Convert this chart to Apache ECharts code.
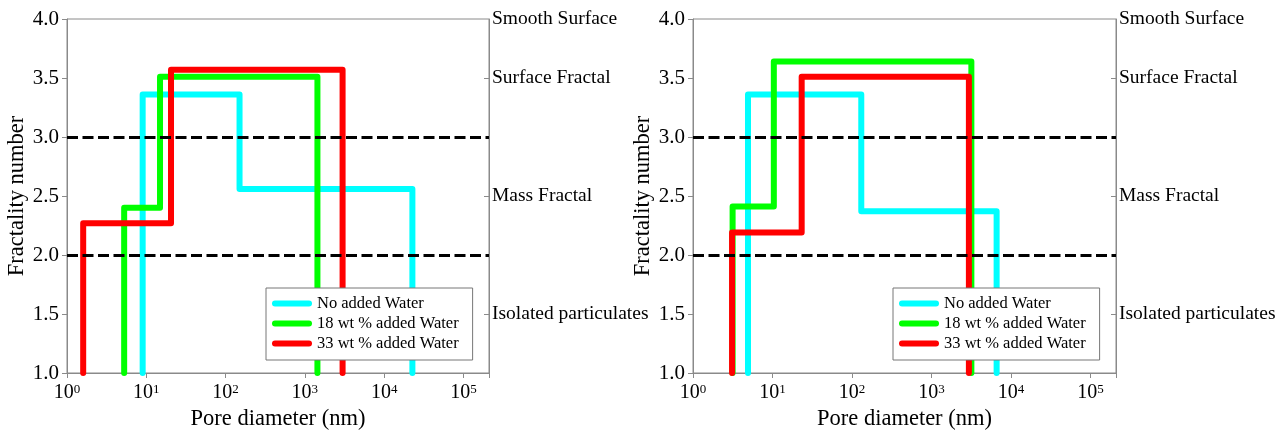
<!DOCTYPE html>
<html>
<head>
<meta charset="utf-8">
<script src="https://cdn.jsdelivr.net/npm/echarts@6/dist/echarts.min.js"></script>
<style>
  html, body { margin: 0; padding: 0; background: #fff; }
  #chart { width: 1288px; height: 430px; }
</style>
</head>
<body>
<div id="chart"></div>
<script>
// ---- Data (pore diameter in nm, fractality number) ----
const seriesNames = ['No added Water', '18 wt % added Water', '33 wt % added Water'];
const seriesColors = ['#00FFFF', '#00FF00', '#FF0000'];

// Left panel
const leftNoWaterX = [9.0, 9.0, 150, 150, 22700, 22700];
const leftNoWaterY = [1.0, 3.36, 3.36, 2.56, 2.56, 1.0];
const left18X = [5.26, 5.26, 14.9, 14.9, 1440, 1440];
const left18Y = [1.0, 2.40, 2.40, 3.51, 3.51, 1.0];
const left33X = [1.60, 1.60, 20.5, 20.5, 2990, 2990];
const left33Y = [1.0, 2.27, 2.27, 3.57, 3.57, 1.0];

// Right panel
const rightNoWaterX = [4.92, 4.92, 131, 131, 6610, 6610];
const rightNoWaterY = [1.0, 3.36, 3.36, 2.37, 2.37, 1.0];
const right18X = [3.15, 3.15, 10.4, 10.4, 3180, 3180];
const right18Y = [1.0, 2.41, 2.41, 3.64, 3.64, 1.0];
const right33X = [3.10, 3.10, 23.3, 23.3, 2960, 2960];
const right33Y = [1.0, 2.19, 2.19, 3.51, 3.51, 1.0];

// Reference (dashed) levels
const thresholdLevels = [3.0, 2.0];

// Axis ticks / labels
const xTickExponents = [0, 1, 2, 3, 4, 5];
const yMin = 1.0, yMax = 4.0, yInterval = 0.5;
const xMin = 1, xMax = 2.1e5;
const regimeValues = [4.0, 3.5, 2.5, 1.5];
const regimeLabels = ['Smooth Surface', 'Surface Fractal', 'Mass Fractal', 'Isolated particulates'];
const regimeTickValues = [3.5, 2.5, 1.5];

// ---- Build chart ----
const FONT = '"Liberation Serif", "Times New Roman", serif';
const AXIS_GRAY = '#8a8a8a';

function zip(xs, ys) { return xs.map((x, i) => [x, ys[i]]); }

function xFormatter(v) {
  const e = Math.round(Math.log10(v));
  if (Math.abs(Math.pow(10, e) - v) / v > 1e-6) return '';
  if (xTickExponents.indexOf(e) < 0) return '';
  return '{b|10}{s|' + e + '}';
}

function regimeFormatter(v) {
  for (let i = 0; i < regimeValues.length; i++) {
    if (Math.abs(regimeValues[i] - v) < 1e-6) return regimeLabels[i];
  }
  return '';
}

const grids = [
  { left: 67, top: 19, width: 422, height: 354 },
  { left: 693, top: 19, width: 423, height: 354 }
];

const xAxes = [], yAxes = [], series = [], legends = [];
const panels = [
  [zip(leftNoWaterX, leftNoWaterY), zip(left18X, left18Y), zip(left33X, left33Y)],
  [zip(rightNoWaterX, rightNoWaterY), zip(right18X, right18Y), zip(right33X, right33Y)]
];
const legendLeft = [266, 893];

grids.forEach((g, gi) => {
  g.show = true;
  g.borderColor = AXIS_GRAY;
  g.borderWidth = 1;
  g.backgroundColor = 'transparent';
  g.containLabel = false;
  g.outerBoundsMode = 'none';

  xAxes.push({
    type: 'log', logBase: 10, gridIndex: gi, min: xMin, max: xMax,
    name: 'Pore diameter (nm)', nameLocation: 'middle', nameGap: 26,
    nameTextStyle: { fontFamily: FONT, fontSize: 22.5, color: '#000' },
    axisLine: { show: true, lineStyle: { color: AXIS_GRAY, width: 1 } },
    axisTick: { show: true, length: 5, lineStyle: { color: AXIS_GRAY } },
    minorTick: { show: false },
    splitLine: { show: false },
    axisLabel: {
      margin: 10, color: '#000', formatter: xFormatter,
      rich: {
        b: { fontFamily: FONT, fontSize: 20, color: '#000' },
        s: { fontFamily: FONT, fontSize: 13, color: '#000', verticalAlign: 'top' }
      }
    }
  });

  yAxes.push({
    type: 'value', gridIndex: gi, position: 'left', min: yMin, max: yMax, interval: yInterval,
    name: 'Fractality number', nameLocation: 'middle', nameGap: 38,
    nameTextStyle: { fontFamily: FONT, fontSize: 22.5, color: '#000' },
    axisLine: { show: true, lineStyle: { color: AXIS_GRAY, width: 1 } },
    axisTick: { show: true, length: 5, lineStyle: { color: AXIS_GRAY } },
    splitLine: { show: false },
    axisLabel: {
      margin: 8, fontFamily: FONT, fontSize: 21, color: '#000',
      formatter: v => v.toFixed(1)
    }
  });

  yAxes.push({
    type: 'value', gridIndex: gi, position: 'right', min: yMin, max: yMax, interval: yInterval,
    axisLine: { show: true, lineStyle: { color: AXIS_GRAY, width: 1 } },
    axisTick: { show: true, inside: true, length: 5, customValues: regimeTickValues, lineStyle: { color: AXIS_GRAY } },
    splitLine: { show: false },
    axisLabel: {
      margin: 3, fontFamily: FONT, fontSize: 19.5, color: '#000',
      customValues: regimeValues, formatter: regimeFormatter
    }
  });

  panels[gi].forEach((data, si) => {
    const s = {
      name: seriesNames[si], type: 'line',
      xAxisIndex: gi, yAxisIndex: gi * 2,
      data: data, symbol: 'none', showSymbol: false,
      color: seriesColors[si],
      lineStyle: { color: seriesColors[si], width: 6, cap: 'round', join: 'round' },
      z: 2 + si, animation: false
    };
    if (si === 2) {
      s.markLine = {
        silent: true, symbol: ['none', 'none'], animation: false,
        label: { show: false },
        lineStyle: { color: '#000', type: [11, 4.5], width: 3 },
        data: thresholdLevels.map(v => ({ yAxis: v }))
      };
    }
    series.push(s);
  });

  legends.push({
    orient: 'vertical', left: legendLeft[gi], top: 288, z: 20,
    data: seriesNames,
    icon: 'path://M3,0 H37 A3,3 0 0 1 37,6 H3 A3,3 0 0 1 3,0 Z',
    itemWidth: 40, itemHeight: 6, itemGap: 3,
    padding: [7, 14, 8, 6],
    backgroundColor: '#fff', borderColor: '#777', borderWidth: 1,
    selectedMode: false,
    textStyle: { fontFamily: FONT, fontSize: 16.5, color: '#000' }
  });
});

const chart = echarts.init(document.getElementById('chart'), null, { renderer: 'canvas' });
chart.setOption({
  animation: false,
  backgroundColor: '#fff',
  grid: grids,
  xAxis: xAxes,
  yAxis: yAxes,
  legend: legends,
  series: series
});
</script>
</body>
</html>
